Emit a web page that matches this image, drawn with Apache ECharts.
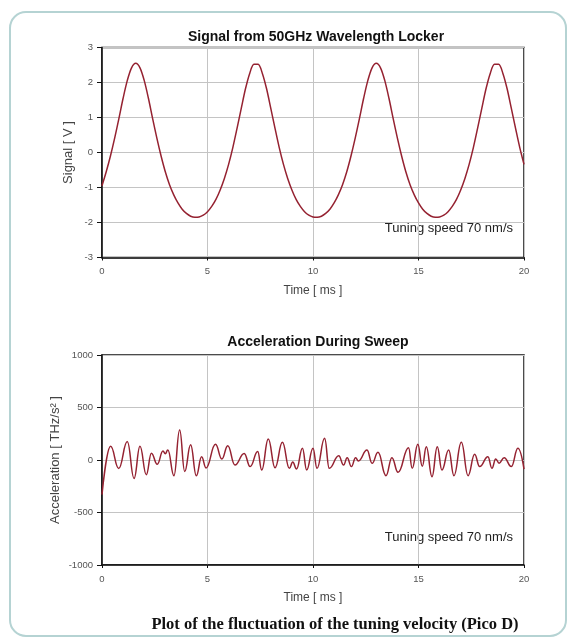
<!DOCTYPE html>
<html>
<head>
<meta charset="utf-8">
<title>Tuning velocity</title>
<script src="https://cdn.jsdelivr.net/npm/echarts@6/dist/echarts.min.js"></script>
<style>
    html, body { margin: 0; padding: 0; background: #fff; }
    #main { width: 569px; height: 639px; }
</style>
</head>
<body>
<div id="main"></div>
<script>
// 上图 信号 时间轴 (ms)
var sigTime = [0, 0.2, 0.4, 0.6, 0.8, 1, 1.2, 1.4, 1.6, 1.8, 2, 2.2, 2.4, 2.6, 2.8, 3, 3.2, 3.4, 3.6, 3.8,
    4, 4.2, 4.4, 4.6, 4.8, 5, 5.2, 5.4, 5.6, 5.8, 6, 6.2, 6.4, 6.6, 6.8, 7, 7.2, 7.4, 7.6, 7.8,
    8, 8.2, 8.4, 8.6, 8.8, 9, 9.2, 9.4, 9.6, 9.8, 10, 10.2, 10.4, 10.6, 10.8, 11, 11.2, 11.4, 11.6, 11.8,
    12, 12.2, 12.4, 12.6, 12.8, 13, 13.2, 13.4, 13.6, 13.8, 14, 14.2, 14.4, 14.6, 14.8, 15, 15.2, 15.4, 15.6, 15.8,
    16, 16.2, 16.4, 16.6, 16.8, 17, 17.2, 17.4, 17.6, 17.8, 18, 18.2, 18.4, 18.6, 18.8, 19, 19.2, 19.4, 19.6, 19.8, 20];
// 信号值 (V)
var sigValue = [-0.95, -0.55, -0.10, 0.41, 0.97, 1.55, 2.06, 2.42, 2.55, 2.42, 2.06, 1.55, 0.97, 0.41, -0.10, -0.55, -0.92, -1.21, -1.44, -1.62,
    -1.74, -1.82, -1.85, -1.84, -1.79, -1.69, -1.54, -1.34, -1.07, -0.74, -0.34, 0.14, 0.69, 1.26, 1.82, 2.26, 2.52, 2.52, 2.26, 1.82,
    1.26, 0.69, 0.14, -0.34, -0.74, -1.07, -1.34, -1.54, -1.69, -1.79, -1.84, -1.85, -1.82, -1.74, -1.62, -1.44, -1.21, -0.92, -0.55, -0.10,
    0.41, 0.97, 1.55, 2.06, 2.42, 2.55, 2.42, 2.06, 1.55, 0.97, 0.41, -0.10, -0.55, -0.92, -1.21, -1.44, -1.62, -1.74, -1.82, -1.85,
    -1.84, -1.79, -1.69, -1.54, -1.34, -1.07, -0.74, -0.34, 0.14, 0.69, 1.26, 1.82, 2.26, 2.52, 2.52, 2.26, 1.82, 1.26, 0.69, 0.14, -0.34];

// 下图 加速度 (峰谷点)
var accTime = [0, 0.41, 0.79, 1.20, 1.52, 1.80, 2.10, 2.34, 2.62, 2.89, 3.00, 3.12, 3.41, 3.68, 3.92, 4.20, 4.47, 4.72, 4.93,
    5.38, 5.68, 5.96, 6.30, 6.74, 7.02, 7.38, 7.57, 7.88, 8.20, 8.55, 8.88, 9.04, 9.22, 9.50, 9.70, 10.00, 10.19, 10.55, 10.77,
    11.22, 11.45, 11.62, 11.82, 12.02, 12.15, 12.56, 12.80, 13.08, 13.46, 13.74, 14.03, 14.53, 14.70, 14.97, 15.18, 15.37, 15.64,
    15.89, 16.11, 16.43, 16.68, 17.03, 17.35, 17.66, 17.90, 18.29, 18.48, 18.66, 18.82, 19.06, 19.40, 19.71, 20.00];
var accValue = [-330, 130, -80, 175, -175, 130, -140, 65, -40, 85, 60, 95, -150, 285, -110, 145, -150, 30, -75,
    150, 10, 136, -48, 63, -63, 80, -95, 200, -73, 168, -79, -20, -86, 111, -95, 111, -79, 206, -79,
    41, -48, 22, -63, 22, -10, 95, -32, 73, -149, 22, -117, 117, -79, 149, -60, 127, -159,
    127, -95, 95, -149, 168, -149, 54, -63, 32, -79, 10, -30, 22, -63, 111, -86];

var chartTitles = ["Signal from 50GHz Wavelength Locker", "Acceleration During Sweep"];
var yNames = ["Signal [ V ]", "Acceleration [ THz/s\u00b2 ]"];
var xName = "Time [ ms ]";
var note = "Tuning speed 70 nm/s";
var caption = "Plot of the fluctuation of the tuning velocity (Pico D)";

var lineColor = "#952231";
var font = "Liberation Sans, Arial, sans-serif";

// 组合 [x, y]
function pairs(xs, ys) {
    var arr = [];
    for (var i = 0; i < xs.length; i++) {
        arr.push([xs[i], ys[i]]);
    }
    return arr;
}

// x 轴
function timeAxis(idx) {
    return {
        gridIndex: idx,
        type: "value",
        min: 0,
        max: 20,
        interval: 5,
        name: xName,
        nameLocation: "middle",
        nameGap: 27,
        nameTextStyle: { fontSize: 12, color: "#444", fontFamily: font },
        axisLine: { show: true, onZero: false, lineStyle: { color: "#111", width: 1.5 } },
        axisTick: { show: true, length: 3, lineStyle: { color: "#111" } },
        axisLabel: { fontSize: 9.5, color: "#555", margin: 9, fontFamily: font },
        splitLine: { show: true, lineStyle: { color: "#c4c4c4", width: 1 } }
    };
}

// y 轴
function valAxis(idx, min, max, step, name, gap) {
    return {
        gridIndex: idx,
        type: "value",
        min: min,
        max: max,
        interval: step,
        name: name,
        nameLocation: "middle",
        nameRotate: 90,
        nameGap: gap,
        nameMoveOverlap: false,
        nameTextStyle: { fontSize: 13, color: "#444", fontFamily: font },
        axisLine: { show: true, onZero: false, lineStyle: { color: "#111", width: 1.5 } },
        axisTick: { show: true, length: 5, lineStyle: { color: "#111" } },
        axisLabel: {
            fontSize: 9.5, color: "#555", margin: 9, fontFamily: font,
            formatter: function(v) { return String(v); }
        },
        splitLine: { show: true, lineStyle: { color: "#c4c4c4", width: 1 } }
    };
}

var option = {
    backgroundColor: "#fff",
    animation: false,
    title: [{
        text: chartTitles[0],
        left: 311,
        top: 25,
        textAlign: "center",
        textStyle: { fontSize: 14, fontWeight: "bold", color: "#111", fontFamily: font }
    }, {
        text: chartTitles[1],
        left: 313,
        top: 330,
        textAlign: "center",
        textStyle: { fontSize: 14, fontWeight: "bold", color: "#111", fontFamily: font }
    }, {
        text: caption,
        left: 330,
        top: 611,
        textAlign: "center",
        textStyle: { fontSize: 16.5, fontWeight: "bold", color: "#111", fontFamily: "Liberation Serif, serif" }
    }],
    graphic: [{
        type: "rect",
        silent: true,
        shape: { x: 10, y: 12, width: 556, height: 624, r: 16 },
        style: { fill: "transparent", stroke: "#b5d3d3", lineWidth: 2 }
    }, {
        type: "text",
        silent: true,
        right: 56,
        top: 222,
        style: { text: note, fontSize: 13, fill: "#222", fontFamily: font }
    }, {
        type: "text",
        silent: true,
        right: 56,
        top: 531,
        style: { text: note, fontSize: 13, fill: "#222", fontFamily: font }
    }],
    grid: [{
        left: 102, top: 47.5, width: 422, height: 210,
        show: true, borderColor: "#111", borderWidth: 1.5, backgroundColor: "transparent"
    }, {
        left: 102, top: 355, width: 422, height: 210,
        show: true, borderColor: "#111", borderWidth: 1.5, backgroundColor: "transparent"
    }],
    xAxis: [timeAxis(0), timeAxis(1)],
    yAxis: [
        valAxis(0, -3, 3, 1, yNames[0], 27),
        valAxis(1, -1000, 1000, 500, yNames[1], 40)
    ],
    series: [{
        type: "line",
        xAxisIndex: 0,
        yAxisIndex: 0,
        showSymbol: false,
        smooth: 0.3,
        lineStyle: { color: lineColor, width: 1.5 },
        data: pairs(sigTime, sigValue)
    }, {
        type: "line",
        xAxisIndex: 1,
        yAxisIndex: 1,
        showSymbol: false,
        smooth: 0.45,
        smoothMonotone: "x",
        lineStyle: { color: lineColor, width: 1.5 },
        data: pairs(accTime, accValue)
    }]
};

var myChart = echarts.init(document.getElementById("main"));
myChart.setOption(option);
</script>
</body>
</html>
